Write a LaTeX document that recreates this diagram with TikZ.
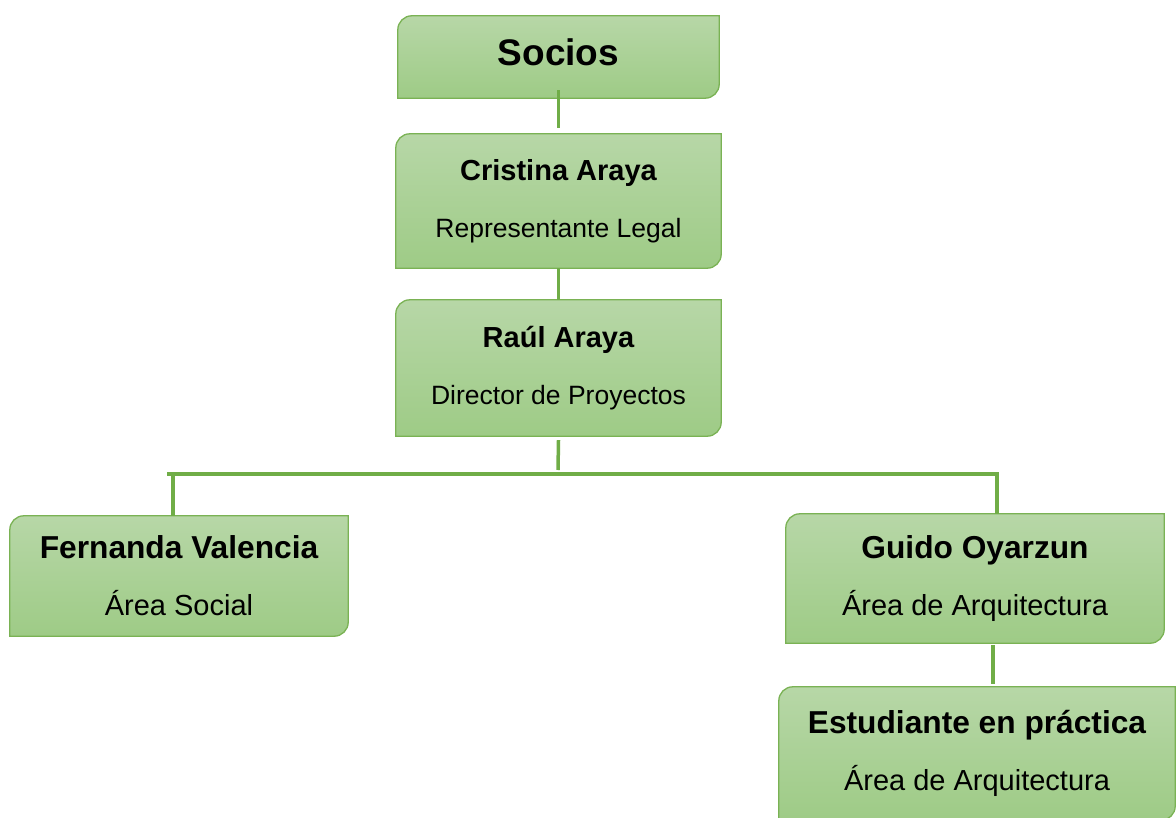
\documentclass[tikz,border=0pt]{standalone}
\usepackage{fontspec}
\setmainfont{Liberation Sans}
\pgfdeclarelayer{background}
\pgfsetlayers{background,main}
\definecolor{boxtop}{RGB}{183,215,167}
\definecolor{boxbottom}{RGB}{158,203,134}
\definecolor{boxline}{RGB}{122,178,84}
\definecolor{linkgreen}{RGB}{112,173,71}
\tikzset{
  orgnode/.style={inner sep=0pt, align=center, font=\fontsize{29}{57}\selectfont},
  smallrole/.style={font=\fontsize{26.5}{57}\selectfont},
  link/.style={draw=linkgreen, line width=3.5pt}
}
% box with two rounded corners (top left, bottom right)
\newcommand{\orgbox}[1]{%
  \draw[top color=boxtop, bottom color=boxbottom, draw=boxline, line width=1.3pt]
    (#1.south west) -- ([yshift=-14pt]#1.north west) arc[start angle=180, end angle=90, radius=14pt]
    -- (#1.north east) -- ([yshift=14pt]#1.south east) arc[start angle=0, end angle=-90, radius=14pt] -- cycle;}
\newcommand{\who}[2]{{\fontsize{29}{57}\bfseries #1}\\#2}
\begin{document}
\begin{tikzpicture}[x=1pt,y=-1pt]
  \useasboundingbox (0,0) rectangle (1176,818);
  \node[orgnode, minimum width=321pt, minimum height=82pt] (socios) at (558.5,57) {\fontsize{37}{44}\bfseries Socios\strut};
  \node[orgnode, smallrole, minimum width=325pt, minimum height=134pt] (cristina) at (558.5,201) {\who{Cristina Araya}{Representante Legal}};
  \node[orgnode, smallrole, minimum width=325pt, minimum height=136pt] (raul) at (558.5,368) {\who{Raúl Araya}{Director de Proyectos}};
  \node[orgnode, minimum width=338pt, minimum height=120pt] (fernanda) at (179,576) {\who{\fontsize{31.7}{57}\selectfont Fernanda Valencia}{Área Social}};
  \node[orgnode, minimum width=378pt, minimum height=129pt] (guido) at (975,578.5) {\who{\fontsize{31.7}{57}\selectfont Guido Oyarzun}{Área de Arquitectura}};
  \node[orgnode, minimum width=396pt, minimum height=133pt] (estudiante) at (977,753.5) {\who{\fontsize{31.7}{57}\selectfont Estudiante en práctica}{Área de Arquitectura}};
  \begin{pgfonlayer}{background}
    \foreach \b in {socios,cristina,raul,fernanda,guido,estudiante} {\orgbox{\b}}
  \end{pgfonlayer}
  %\draw[help lines] (0,0) grid[step=50] (1176,818);
  \coordinate (busl) at (167,474);
  \coordinate (busr) at (999,474);
  \coordinate (bus) at (558,474);
  \draw[link] ([yshift=8pt]socios.south) -- ([yshift=6pt]cristina.north);
  \draw[link] (cristina) -- (raul);
  \draw[link] ([yshift=-4pt]raul.south) -- ([yshift=4pt]bus);
  \draw[link] (busl) -- (busr);
  \draw[link] ([xshift=6pt]busl) -- ([xshift=6pt]busl |- fernanda.north);
  \draw[link] ([xshift=-2pt]busr) -- ([xshift=-2pt]busr |- guido.north);
  \draw[link] ([xshift=18pt,yshift=-2pt]guido.south) -- ([xshift=18pt,yshift=3pt]guido.south |- estudiante.north);
\end{tikzpicture}
\end{document}
